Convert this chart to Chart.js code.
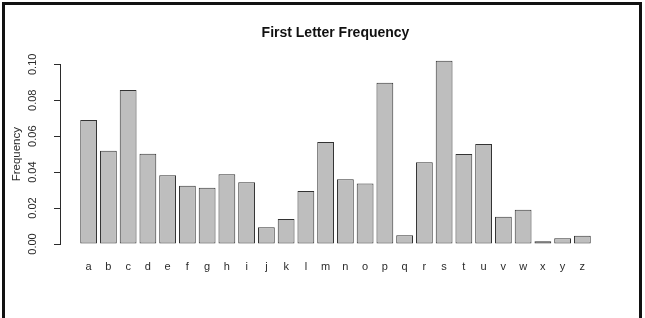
<!DOCTYPE html>
<html>
<head>
<meta charset="utf-8">
<script src="https://cdn.jsdelivr.net/npm/chart.js@4/dist/chart.umd.min.js"></script>
<style>
    body {
        margin: 0;
        background: #ffffff;
    }
    .wrap {
        position: relative;
        width: 645px;
        height: 318px;
        overflow: hidden;
    }
    .frame {
        position: absolute;
        left: 2px;
        top: 2px;
        width: 634px;
        height: 330px;
        border: 3px solid #111;
        border-bottom: none;
        pointer-events: none;
    }
</style>
</head>
<body>
<div class="wrap">
    <canvas id="freqChart" width="645" height="318"></canvas>
    <div class="frame"></div>
</div>

<script>
    // first letters and how often each one starts a word
    const letters = ['a', 'b', 'c', 'd', 'e', 'f', 'g', 'h', 'i', 'j', 'k', 'l', 'm',
                     'n', 'o', 'p', 'q', 'r', 's', 't', 'u', 'v', 'w', 'x', 'y', 'z'];
    const frequency = [0.0690, 0.0519, 0.0857, 0.0502, 0.0382, 0.0324, 0.0313, 0.0388, 0.0343,
                       0.0093, 0.0139, 0.0295, 0.0568, 0.0360, 0.0336, 0.0898, 0.0048, 0.0455,
                       0.1020, 0.0501, 0.0556, 0.0152, 0.0191, 0.0015, 0.0032, 0.0046];
    const yTicks = [0, 0.02, 0.04, 0.06, 0.08, 0.10];

    const font = "'Liberation Sans', Arial, Helvetica, sans-serif";
    const ink = '#2b2b2b';

    const ctx = document.getElementById('freqChart').getContext('2d');
    const freqChart = new Chart(ctx, {
        type: 'bar',
        data: {
            datasets: [{
                data: frequency.map((v, i) => ({x: i, y: v})),
                backgroundColor: '#bebebe',
                borderColor: '#333',
                borderWidth: 1,
                borderSkipped: false,
                categoryPercentage: 1,
                barPercentage: 0.85,
                clip: false
            }]
        },
        options: {
            responsive: false,
            animation: false,
            layout: {
                padding: {left: 0, right: 34, top: 0, bottom: 44}
            },
            plugins: {
                legend: {display: false},
                tooltip: {enabled: false},
                title: {
                    display: true,
                    text: 'First Letter Frequency',
                    fullSize: false,
                    color: '#111',
                    font: {family: font, size: 14, weight: 'bold', lineHeight: 1.2},
                    padding: {top: 24.6, bottom: 22.9}
                }
            },
            scales: {
                x: {
                    type: 'linear',
                    min: -1.45,
                    max: 26.45,
                    offset: false,
                    grid: {display: false, drawTicks: false, offset: false},
                    border: {display: false},
                    ticks: {
                        stepSize: 1,
                        includeBounds: false,
                        autoSkip: false,
                        maxRotation: 0,
                        padding: 16,
                        color: ink,
                        font: {family: font, size: 11},
                        callback: v => letters[v] || ''
                    },
                    afterFit: scale => { scale.height = 30; }
                },
                y: {
                    min: 0,
                    max: 0.10,
                    grid: {drawOnChartArea: false, drawTicks: true, tickLength: 6, color: ink},
                    border: {display: true, color: ink},
                    afterBuildTicks: scale => {
                        scale.ticks = yTicks.map(v => ({value: v}));
                    },
                    ticks: {
                        minRotation: 90,
                        maxRotation: 90,
                        crossAlign: 'center',
                        padding: 10,
                        color: ink,
                        font: {family: font, size: 11},
                        callback: v => v.toFixed(2)
                    },
                    title: {
                        display: true,
                        text: 'Frequency',
                        color: ink,
                        font: {family: font, size: 11.5},
                        padding: {top: 9.5, bottom: 0}
                    },
                    afterFit: scale => { scale.width = 60; }
                }
            }
        }
    });
</script>
</body>
</html>
